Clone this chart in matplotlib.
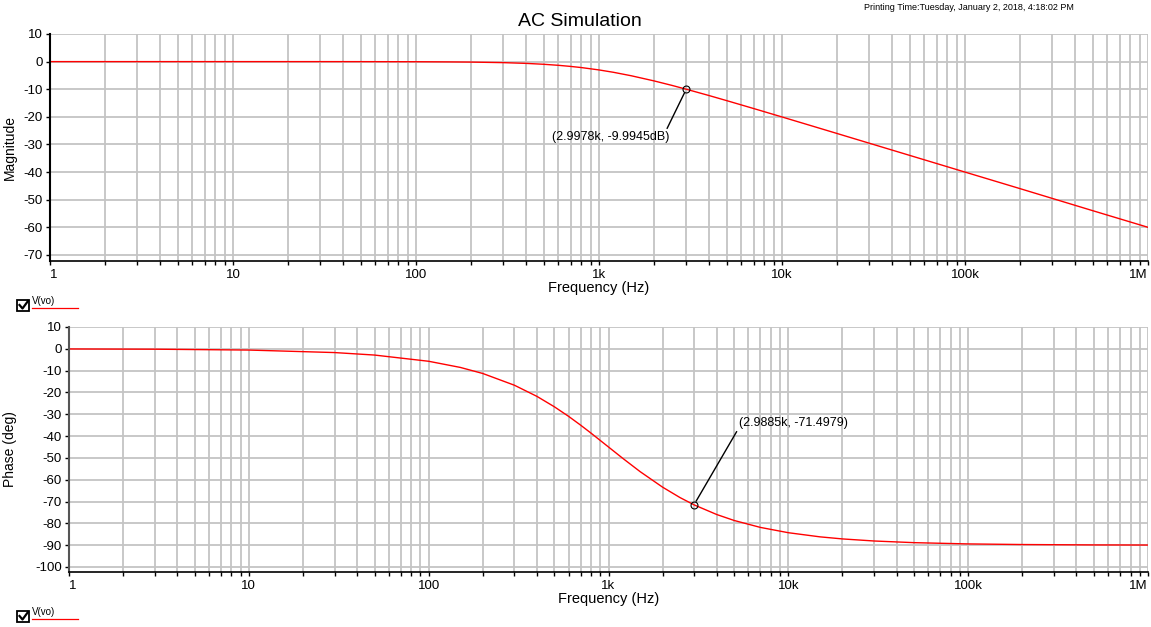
import matplotlib
matplotlib.use('Agg')
import matplotlib.pyplot as plt
from matplotlib.ticker import FixedLocator, FixedFormatter, NullFormatter
from matplotlib.lines import Line2D
from matplotlib.patches import Rectangle

plt.rcParams['font.family'] = ['Liberation Sans', 'DejaVu Sans']

# 读图得到的数据点 (频率 Hz)
freq = [1, 3, 10, 30, 50, 100, 150, 200, 300, 400, 500, 600, 700, 800, 1000, 1200,
        1500, 2000, 2500, 3000, 4000, 5000, 7000, 10000, 15000, 20000, 30000, 50000,
        100000, 200000, 500000, 1000000]
magnitude = [0.0, 0.0, 0.0, 0.0, -0.01, -0.04, -0.1, -0.17, -0.37, -0.64, -0.97, -1.34,
             -1.74, -2.15, -3.01, -3.87, -5.12, -6.99, -8.6, -10.0, -12.3, -14.15, -16.99,
             -20.04, -23.54, -26.03, -29.55, -33.98, -40.0, -46.0, -54.0, -60.0]
phase = [-0.06, -0.17, -0.57, -1.72, -2.86, -5.71, -8.53, -11.31, -16.7, -21.8, -26.57,
         -30.96, -34.99, -38.66, -45.0, -50.19, -56.31, -63.43, -68.2, -71.57, -75.96,
         -78.69, -81.87, -84.29, -86.19, -87.14, -88.09, -88.85, -89.43, -89.71, -89.89, -89.94]

xticks = [1, 10, 100, 1e3, 1e4, 1e5, 1e6]
xticklabels = ['1', '10', '100', '1k', '10k', '100k', '1M']
mag_ticks = list(range(10, -71, -10))
phase_ticks = list(range(10, -101, -10))

mark_mag = (2997.8, -9.9945)
mark_phase = (2988.5, -71.4979)

W, H = 1151, 627
fig = plt.figure(figsize=(W / 100, H / 100), dpi=100)

def px(x0, y0, x1, y1):
    return [x0 / W, 1 - y1 / H, (x1 - x0) / W, (y1 - y0) / H]

ax1 = fig.add_axes(px(50, 34, 1148, 261))
ax2 = fig.add_axes(px(69, 327, 1148, 572))

minors = [m * 10 ** d for d in range(6) for m in range(2, 10)]

for ax, yt, ylim, spine_col in [(ax1, mag_ticks, (-72.2, 10), 'black'),
                                (ax2, phase_ticks, (-102.3, 10), '#555555')]:
    ax.set_xscale('log')
    ax.set_xlim(1, 1e6)
    ax.set_ylim(*ylim)
    ax.xaxis.set_major_locator(FixedLocator(xticks))
    ax.xaxis.set_major_formatter(FixedFormatter(xticklabels))
    ax.xaxis.set_minor_locator(FixedLocator(minors))
    ax.xaxis.set_minor_formatter(NullFormatter())
    ax.set_yticks(yt)
    ax.set_yticklabels([str(v) for v in yt])
    ax.grid(True, which='both', axis='x', color='#c4c4c4', lw=1.3)
    ax.grid(True, which='major', axis='y', color='#c4c4c4', lw=1.3)
    ax.set_axisbelow(True)
    for s in ['top', 'right']:
        ax.spines[s].set_visible(False)
    ax.spines['left'].set_color(spine_col)
    ax.spines['left'].set_linewidth(1.5)
    ax.spines['bottom'].set_color('black')
    ax.spines['bottom'].set_linewidth(1.2)
    ax.tick_params(axis='both', which='both', direction='out', length=3, width=1,
                   labelsize=9.5, pad=2, color='black')
    ax.tick_params(axis='x', which='major', pad=3)
    labels = ax.get_xticklabels()
    labels[0].set_ha('left')
    labels[-1].set_ha('right')
    ax.set_xlabel('Frequency (Hz)', fontsize=10.5, labelpad=0)

ax1.plot(freq, magnitude, color='red', lw=1)
ax2.plot(freq, phase, color='red', lw=1)

ax1.set_ylabel('Magnitude', fontsize=10)
ax1.yaxis.set_label_coords(-0.030, 0.5)
ax2.set_ylabel('Phase (deg)', fontsize=10)
ax2.yaxis.set_label_coords(-0.048, 0.5)

# 标注
ax1.plot(*mark_mag, marker='o', ms=5, mfc='none', mec='black', mew=0.8)
ax1.annotate('(2.9978k, -9.9945dB)', xy=mark_mag, xytext=(-17, -48),
             textcoords='offset pixels', ha='right', va='center', fontsize=9,
             arrowprops=dict(arrowstyle='-', color='black', lw=1,
                             shrinkA=0, shrinkB=3, relpos=(0.97, 1)))
ax2.plot(*mark_phase, marker='o', ms=5, mfc='none', mec='black', mew=0.8)
ax2.annotate('(2.9885k, -71.4979)', xy=mark_phase, xytext=(45, 82),
             textcoords='offset pixels', ha='left', va='center', fontsize=9,
             arrowprops=dict(arrowstyle='-', color='black', lw=1,
                             shrinkA=0, shrinkB=3, relpos=(0, 0.1)))

fig.text(580 / W, 1 - 21 / H, 'AC Simulation', ha='center', va='center', fontsize=14)
fig.text(969 / W, 1 - 8 / H, 'Printing Time:Tuesday, January 2, 2018, 4:18:02 PM',
         ha='center', va='center', fontsize=6.5)

# 图例 V(vo)
for yc in [305, 616]:
    fig.patches.append(Rectangle((17 / W, 1 - (yc + 6) / H), 12 / W, 11 / H,
                                 transform=fig.transFigure, fill=False,
                                 edgecolor='black', lw=1.3))
    fig.lines.append(Line2D([19.5 / W, 22.5 / W, 28 / W],
                            [1 - (yc + 0) / H, 1 - (yc + 3.5) / H, 1 - (yc - 4) / H],
                            transform=fig.transFigure, color='black', lw=1.6))
    fig.text(32 / W, 1 - (yc - 4) / H, 'V(vo)', ha='left', va='center', fontsize=7)
    fig.lines.append(Line2D([32 / W, 78 / W], [1 - (yc + 3) / H, 1 - (yc + 3) / H],
                            transform=fig.transFigure, color='red', lw=0.9))

fig.savefig('out.png', dpi=100)
